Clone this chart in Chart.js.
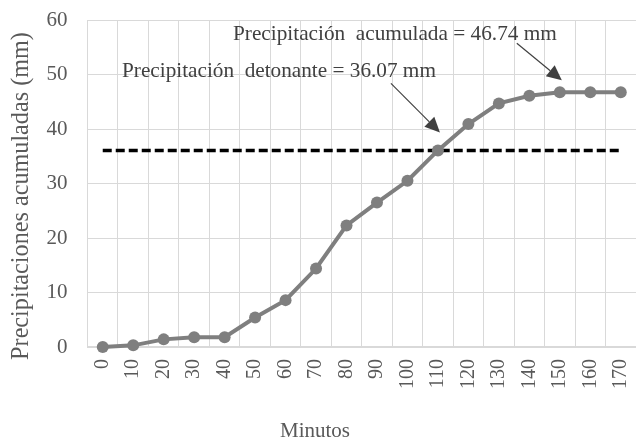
<!DOCTYPE html>
<html>
<head>
<meta charset="utf-8">
<script src="https://cdn.jsdelivr.net/npm/chart.js@4/dist/chart.umd.min.js"></script>
<style>
html,body{margin:0;padding:0;background:#fff;}
#wrap{width:636px;height:443px;position:relative;}
</style>
</head>
<body>
<div id="wrap"><canvas id="c" width="636" height="443"></canvas></div>
<script>
const categories = ['0','10','20','30','40','50','60','70','80','90','100','110','120','130','140','150','160','170'];
const accumulated = [0, 0.3, 1.4, 1.8, 1.8, 5.4, 8.6, 14.4, 22.3, 26.5, 30.5, 36.07, 40.9, 44.7, 46.1, 46.74, 46.74, 46.74];
const triggerValue = 36.07;
const triggerLine = categories.map(() => triggerValue);
const totalValue = 46.74;
const yTicks = [0, 10, 20, 30, 40, 50, 60];
const xTitle = 'Minutos';
const yTitle = 'Precipitaciones acumuladas (mm)';
const noteTotal = 'Precipitación  acumulada = 46.74 mm';
const noteTrigger = 'Precipitación  detonante = 36.07 mm';

const SERIF = '"Liberation Serif", "Times New Roman", serif';

function fitFont(ctx, text, target, base) {
  ctx.font = base + 'px ' + SERIF;
  const w = ctx.measureText(text).width;
  return base * target / w;
}

function arrow(ctx, x1, y1, x2, y2) {
  const ang = Math.atan2(y2 - y1, x2 - x1);
  const L = 15, W = 7;
  const bx = x2 - L * Math.cos(ang), by = y2 - L * Math.sin(ang);
  ctx.strokeStyle = '#404040';
  ctx.fillStyle = '#404040';
  ctx.lineWidth = 1.2;
  ctx.beginPath();
  ctx.moveTo(x1, y1);
  ctx.lineTo(bx, by);
  ctx.stroke();
  ctx.beginPath();
  ctx.moveTo(x2, y2);
  ctx.lineTo(bx + W * Math.sin(ang), by - W * Math.cos(ang));
  ctx.lineTo(bx - W * Math.sin(ang), by + W * Math.cos(ang));
  ctx.closePath();
  ctx.fill();
}

const overlay = {
  id: 'overlay',
  afterDraw(chart) {
    const ctx = chart.ctx;
    const xs = chart.scales.x, ys = chart.scales.y;
    ctx.save();
    ctx.fillStyle = '#595959';
    ctx.textAlign = 'center';
    ctx.textBaseline = 'middle';
    ctx.font = '21px ' + SERIF;
    ctx.fillText(xTitle, 315, 431);
    ctx.save();
    ctx.translate(22, 196);
    ctx.rotate(-Math.PI / 2);
    const fy = fitFont(ctx, yTitle, 328, 21);
    ctx.font = fy + 'px ' + SERIF;
    ctx.fillText(yTitle, 0, 0);
    ctx.restore();
    ctx.fillStyle = '#404040';
    ctx.textAlign = 'left';
    ctx.textBaseline = 'alphabetic';
    let f = fitFont(ctx, noteTotal, 324, 20);
    ctx.font = f + 'px ' + SERIF;
    ctx.fillText(noteTotal, 233, 40);
    f = fitFont(ctx, noteTrigger, 314, 20);
    ctx.font = f + 'px ' + SERIF;
    ctx.fillText(noteTrigger, 122, 77);
    const t1x = xs.getPixelForValue(11) + 2, t1y = ys.getPixelForValue(triggerValue) - 18;
    arrow(ctx, t1x - 49, t1y - 49, t1x, t1y);
    const t2x = xs.getPixelForValue(15) + 2, t2y = ys.getPixelForValue(totalValue) - 12;
    arrow(ctx, t2x - 45, t2y - 37, t2x, t2y);
    ctx.restore();
  }
};

new Chart(document.getElementById('c'), {
  type: 'line',
  data: {
    labels: categories,
    datasets: [
      {
        data: triggerLine,
        borderColor: '#000000',
        borderWidth: 3.5,
        borderDash: [9, 4],
        pointRadius: 0,
        fill: false,
        order: 2
      },
      {
        data: accumulated,
        borderColor: '#7f7f7f',
        backgroundColor: '#7f7f7f',
        borderWidth: 4,
        pointRadius: 6,
        pointBackgroundColor: '#7f7f7f',
        pointBorderColor: '#7f7f7f',
        pointBorderWidth: 0,
        tension: 0,
        fill: false,
        clip: false,
        order: 1
      }
    ]
  },
  options: {
    responsive: false,
    animation: false,
    events: [],
    layout: { autoPadding: false, padding: { top: 20, right: -3, left: 0, bottom: 0 } },
    plugins: { legend: { display: false }, tooltip: { enabled: false } },
    scales: {
      x: {
        offset: true,
        grid: { color: '#d9d9d9', lineWidth: 1, offset: true, drawTicks: false },
        border: { color: '#d9d9d9', width: 1.5 },
        ticks: {
          color: '#595959',
          font: { family: SERIF, size: 20 },
          minRotation: 90, maxRotation: 90,
          padding: 12,
          autoSkip: false
        },
        afterFit(scale) { scale.height = 96; scale.paddingLeft = -3; scale.paddingRight = -3; scale.paddingTop = -3; scale.paddingBottom = -3; }
      },
      y: {
        min: 0, max: 60,
        afterBuildTicks(scale) { scale.ticks = yTicks.map(v => ({ value: v })); },
        grid: { color: '#d9d9d9', lineWidth: 1, drawTicks: false },
        border: { color: '#d9d9d9', width: 1 },
        ticks: {
          color: '#595959',
          font: { family: SERIF, size: 21 },
          padding: 20
        },
        afterFit(scale) { scale.width = 87.5; scale.paddingTop = -3; scale.paddingBottom = -3; scale.paddingLeft = -3; scale.paddingRight = -3; }
      }
    }
  },
  plugins: [overlay]
});
</script>
</body>
</html>
